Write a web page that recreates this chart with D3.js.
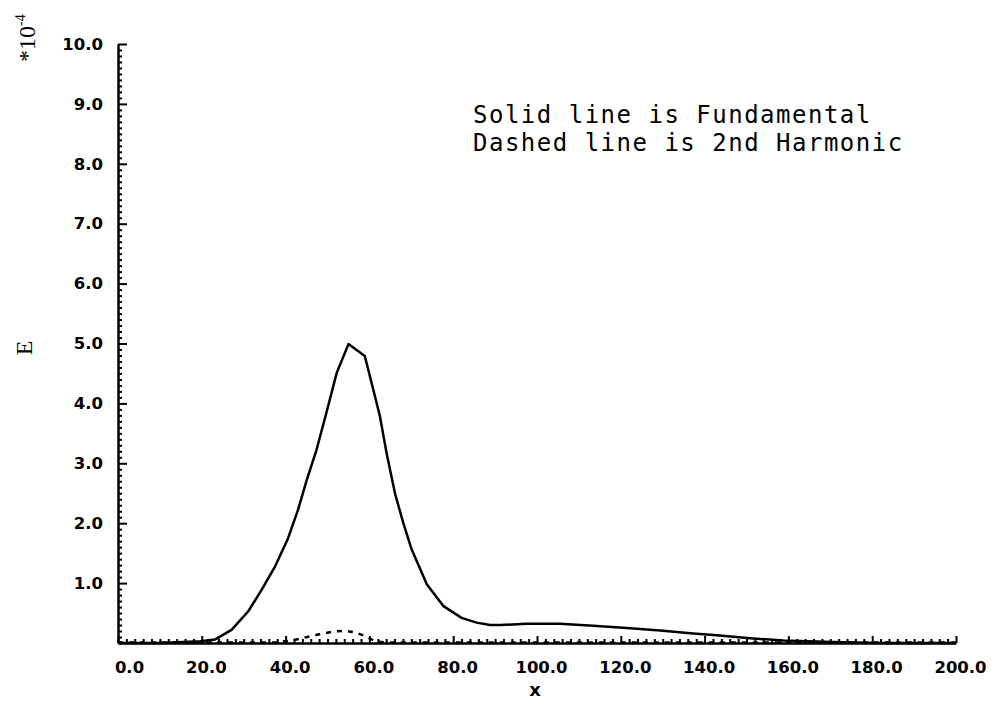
<!DOCTYPE html>
<html>
<head>
<meta charset="utf-8">
<script src="https://cdn.jsdelivr.net/npm/d3@7/dist/d3.min.js"></script>
<style>
  html, body { margin: 0; padding: 0; background: #fff; }
  svg { display: block; }
</style>
</head>
<body>
<svg id="chart" width="996" height="711"></svg>
<script>
// ---- data ----
const fundX = [0, 10, 19.6, 23.2, 27.1, 31.1, 34.3, 37.5, 40.6, 43.0, 45.0, 47.4, 49.8, 52.2, 55.0, 58.9, 60.5, 62.5, 64.1, 66.1, 68.1, 70.1, 73.7, 77.6, 82.0, 85.6, 88.8, 91.2, 97.5, 105.5, 113.4, 121.4, 129.4, 137.3, 142.9, 150.8, 158.8, 170.6, 182, 200];
const fundY = [0, 0, 0.03, 0.06, 0.22, 0.53, 0.89, 1.28, 1.75, 2.23, 2.71, 3.23, 3.86, 4.51, 4.99, 4.79, 4.35, 3.79, 3.17, 2.50, 2.00, 1.56, 0.98, 0.62, 0.42, 0.34, 0.30, 0.30, 0.32, 0.32, 0.29, 0.25, 0.21, 0.16, 0.13, 0.08, 0.04, 0.015, 0, 0];
const harmX = [0, 38, 42, 45.8, 48.6, 51.4, 54.2, 57.0, 59.4, 61.3, 64, 68, 200];
const harmY = [0.01, 0.01, 0.05, 0.11, 0.155, 0.19, 0.205, 0.17, 0.10, 0.03, 0.01, 0.01, 0.01];
const xMajorTicks = [0, 20, 40, 60, 80, 100, 120, 140, 160, 180, 200];
const yMajorTicks = [1, 2, 3, 4, 5, 6, 7, 8, 9, 10];
const legendLines = ["Solid line is Fundamental", "Dashed line is 2nd Harmonic"];
const xTitle = "x";
const yTitle = "E";

// ---- layout ----
const svg = d3.select("#chart");
svg.append("rect").attr("width", 996).attr("height", 711).attr("fill", "#fff");

const x = d3.scaleLinear().domain([0, 200]).range([118, 956]);
const y = d3.scaleLinear().domain([0, 10]).range([643, 44]);

const xMinor = d3.range(0, 201, 2).filter(v => v % 20 !== 0);
const yMinor = d3.range(0, 101, 1).map(v => v / 10).filter(v => Math.round(v * 10) % 10 !== 0);

const tickFont = "'DejaVu Sans', sans-serif";

// x minor ticks
svg.append("g").attr("transform", `translate(0,${y(0)})`)
  .call(d3.axisBottom(x).tickValues(xMinor).tickSize(-4).tickSizeOuter(0).tickFormat(""))
  .call(g => g.select(".domain").remove())
  .call(g => g.selectAll("line").attr("stroke", "#000").attr("stroke-width", 2));
// y minor ticks
svg.append("g").attr("transform", `translate(${x(0)},0)`)
  .call(d3.axisLeft(y).tickValues(yMinor).tickSize(-4).tickSizeOuter(0).tickFormat(""))
  .call(g => g.select(".domain").remove())
  .call(g => g.selectAll("line").attr("stroke", "#000").attr("stroke-width", 2));

// x major axis
const gx = svg.append("g").attr("transform", `translate(0,${y(0)})`)
  .call(d3.axisBottom(x).tickValues(xMajorTicks).tickSize(-7).tickSizeOuter(0).tickPadding(18).tickFormat(d3.format(".1f")));
gx.select(".domain").attr("stroke", "#000").attr("stroke-width", 2.5);
gx.selectAll("line").attr("stroke", "#000").attr("stroke-width", 2);
gx.selectAll("text").attr("font-family", tickFont).attr("font-weight", "bold").attr("font-size", 16.5)
  .attr("fill", "#000").attr("dx", d => d === 0 ? 11 : 4);

// y major axis
const gy = svg.append("g").attr("transform", `translate(${x(0)},0)`)
  .call(d3.axisLeft(y).tickValues(yMajorTicks).tickSize(-9).tickSizeOuter(0).tickPadding(15).tickFormat(d3.format(".1f")));
gy.select(".domain").attr("stroke", "#000").attr("stroke-width", 2.5);
gy.selectAll("line").attr("stroke", "#000").attr("stroke-width", 2);
gy.selectAll("text").attr("font-family", tickFont).attr("font-weight", "bold").attr("font-size", 16.5).attr("fill", "#000");

// ---- lines ----
const line = d3.line().x(d => x(d[0])).y(d => y(d[1]));
svg.append("path").datum(d3.zip(fundX, fundY)).attr("d", line)
  .attr("fill", "none").attr("stroke", "#000").attr("stroke-width", 2.5).attr("stroke-linejoin", "round");
svg.append("path").datum(d3.zip(harmX, harmY)).attr("d", line)
  .attr("fill", "none").attr("stroke", "#000").attr("stroke-width", 2.5).attr("stroke-dasharray", "5,6");

// ---- legend text ----
svg.append("g").selectAll("text").data(legendLines).join("text")
  .attr("x", 473).attr("y", (d, i) => 123 + i * 28)
  .attr("font-family", "'DejaVu Sans Mono', monospace").attr("font-size", 24).attr("letter-spacing", 1.5)
  .attr("fill", "#000").text(d => d);

// ---- axis titles ----
svg.append("text").attr("x", 535).attr("y", 696).attr("text-anchor", "middle")
  .attr("font-family", tickFont).attr("font-weight", "bold").attr("font-size", 18).text(xTitle);

svg.append("text").attr("transform", "translate(32,348) rotate(-90)").attr("text-anchor", "middle")
  .attr("font-family", "'Liberation Serif', serif").attr("font-size", 24).text(yTitle);

const mult = svg.append("text").attr("transform", "translate(35,62) rotate(-90)")
  .attr("font-family", "'Liberation Serif', serif").attr("font-size", 24);
mult.append("tspan").text("*10");
mult.append("tspan").attr("dy", -10).attr("font-size", 14).text("-4");
</script>
</body>
</html>
